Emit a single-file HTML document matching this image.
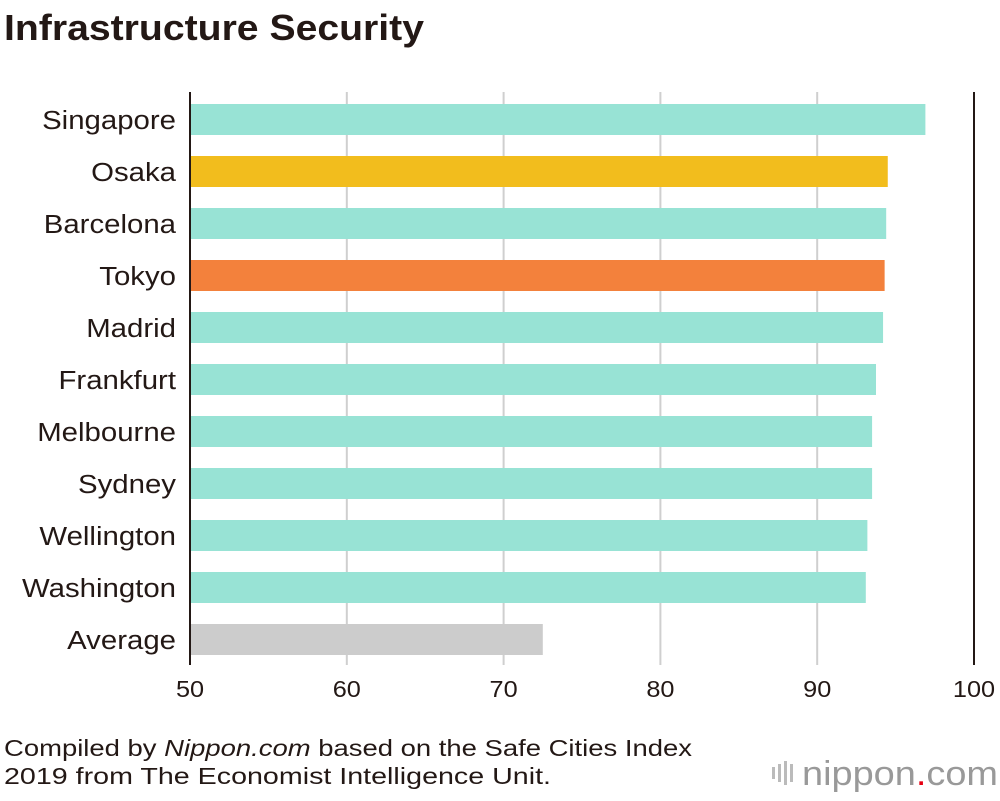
<!DOCTYPE html>
<html><head><meta charset="utf-8"><style>
body{margin:0;background:#fff;font-family:"Liberation Sans",sans-serif;}
</style></head><body>
<svg width="1000" height="796" xmlns="http://www.w3.org/2000/svg" font-family="Liberation Sans, sans-serif">
<text x="4" y="40" font-size="36" font-weight="bold" fill="#231815" textLength="420" lengthAdjust="spacingAndGlyphs">Infrastructure Security</text>
<g id="grid"></g>
<g id="bars"></g>
<g id="labels"></g>
<g id="ticks"></g>
<text x="4" y="756" font-size="23" fill="#231815" textLength="688" lengthAdjust="spacingAndGlyphs">Compiled by <tspan font-style="italic">Nippon.com</tspan> based on the Safe Cities Index</text>
<text x="4" y="784" font-size="23" fill="#231815" textLength="547" lengthAdjust="spacingAndGlyphs">2019 from The Economist Intelligence Unit.</text>
<g>
<rect x="772" y="767" width="3" height="12" fill="#bbb"/><rect x="778" y="764" width="3" height="18" fill="#bbb"/><rect x="784" y="761" width="3" height="24" fill="#bbb"/><rect x="790" y="764" width="3" height="18" fill="#bbb"/>
<text x="802" y="785" font-size="34" fill="#999" textLength="196" lengthAdjust="spacingAndGlyphs">nippon<tspan fill="#e60012">.</tspan>com</text>
</g>
</svg>
<script>
const categories=["Singapore","Osaka","Barcelona","Tokyo","Madrid","Frankfurt","Melbourne","Sydney","Wellington","Washington","Average"];
const values=[96.9,94.5,94.4,94.3,94.2,93.75,93.5,93.5,93.2,93.1,72.5];
const colors=["#98e3d5","#f2bd1d","#98e3d5","#f3813c","#98e3d5","#98e3d5","#98e3d5","#98e3d5","#98e3d5","#98e3d5","#cccccc"];
const ticks=[50,60,70,80,90,100];
const NS="http://www.w3.org/2000/svg";
const x=v=>190+(v-50)*(974-190)/50;
const y=i=>104+i*52;
function mk(t,a,p){const e=document.createElementNS(NS,t);for(const k in a)e.setAttribute(k,a[k]);document.getElementById(p).appendChild(e);return e;}
ticks.forEach((t,i)=>{
  const l=mk("line",{x1:x(t),x2:x(t),y1:92,y2:665,stroke:(i==0||i==ticks.length-1)?"#231815":"#cfcfcf","stroke-width":2},"grid");
  
  
  const tx=mk("text",{x:0,y:0,"font-size":23,"text-anchor":"middle",fill:"#231815",transform:`translate(${x(t)},697) scale(1.1,1)`},"ticks");
  tx.textContent=t;
  
  
});
categories.forEach((c,i)=>{
  const r=mk("rect",{x:x(50)+1,y:y(i),width:x(values[i])-x(50)-1,height:31,fill:colors[i]},"bars");
  
  
  const t=mk("text",{x:0,y:0,"font-size":26,"text-anchor":"end",fill:"#231815",transform:`translate(176,${y(i)+25}) scale(1.13,1)`},"labels");
  t.textContent=c;
  
  
});
</script>
</body></html>
